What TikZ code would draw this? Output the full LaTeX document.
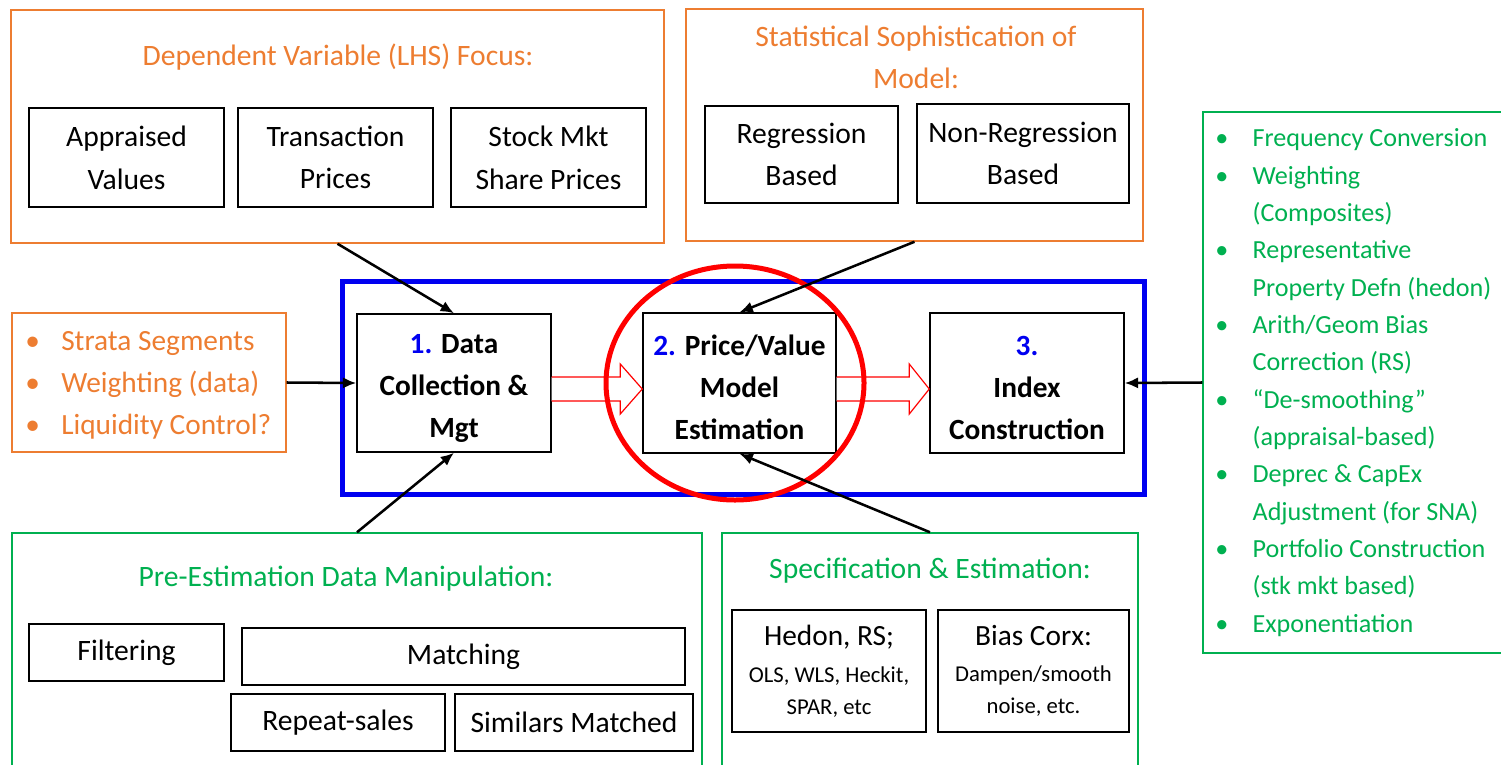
\documentclass[tikz,border=0pt]{standalone}
\usepackage{fontspec}
\setmainfont{Carlito}
\usetikzlibrary{shapes.geometric,arrows.meta,calc}
\definecolor{orng}{HTML}{ED7D31}
\definecolor{grn}{HTML}{00B050}
\definecolor{blu}{HTML}{0000F0}
\begin{document}
\begin{tikzpicture}[x=0.75pt,y=-0.75pt,
  sz/.style 2 args={minimum width=#1*0.75pt, minimum height=#2*0.75pt},
  obox/.style={draw=orng, line width=1.1pt, inner sep=0pt},
  gbox/.style={draw=grn, line width=1.1pt, inner sep=0pt},
  kbox/.style={draw=black, line width=1.1pt, inner sep=0pt, align=center, font=\fontsize{22.2}{32}\selectfont},
  mbox/.style={kbox, font=\fontsize{22}{31.5}\selectfont\bfseries},
  ttl/.style={inner sep=0pt, align=center, font=\fontsize{22.2}{31.5}\selectfont},
  conn/.style={line width=1.9pt, -{Latex[length=10pt,width=8.5pt]}},
  hol/.style={draw=red, fill=white, line width=0.9pt, line join=miter},
]
\useasboundingbox (0,0) rectangle (1501,764);
\clip (0,0) rectangle (1501,764);

% top orange boxes
\node[obox, sz={653}{233}] (o1) at (337.5,126.5) {};
\node[ttl, text=orng] (o1t) at (338,57) {Dependent Variable (LHS) Focus:};
\node[kbox, sz={195}{99}] (app) at (126.5,157.5) {Appraised\\Values};
\node[kbox, sz={195}{99}] (tra) at (335.5,157.5) {Transaction\\Prices};
\node[kbox, sz={195}{99}] (stk) at (548.5,157.5) {Stock Mkt\\Share Prices};

\node[obox, sz={457}{232}] (o2) at (914.5,125) {};
\node[ttl, text=orng] (o2t) at (916,57) {Statistical Sophistication of\\Model:};
\node[kbox, sz={193}{97}] (reg) at (801.5,154.5) {Regression\\Based};
\node[kbox, sz={212}{99}] (nreg) at (1023,153.5) {Non-Regression\\Based};

% left orange list
\node[obox, sz={274}{139}] (ll) at (149,382.5) {};
\node[ttl, anchor=west, text=orng, align=left, font=\fontsize{22}{31.5}\selectfont] (llt) at (25,384)
  {\begin{tabular}{@{}p{27pt}@{}l@{}}\textbullet & Strata Segments\\ \textbullet & Weighting (data)\\ \textbullet & Liquidity Control?\end{tabular}};

% blue frame and main boxes
\node[draw=blu, line width=3.75pt, inner sep=0pt, sz={802}{213}] (frame) at (743,387.5) {};
\node[mbox, sz={194}{138}] (b1) at (454,383) {\strut\textcolor{blu}{1.} Data\\Collection \&\\Mgt};
\node[mbox, sz={193}{140}] (b2) at (739.5,383) {\strut\textcolor{blu}{2.} Price/Value\\Model\\Estimation};
\node[mbox, sz={194}{140}] (b3) at (1027,383) {\strut\textcolor{blu}{3.}\\Index\\Construction};

% hollow arrows
\draw[hol] ($(b1.east)+(0,-6)$) -- ($(b2.west)+(-22,-6)$) -- ($(b2.west)+(-22,-19)$)
  -- ($(b2.west)+(0,6)$) -- ($(b2.west)+(-22,31)$) -- ($(b2.west)+(-22,18)$) -- ($(b1.east)+(0,18)$);
\draw[hol] ($(b2.east)+(0,-6)$) -- ($(b3.west)+(-20,-6)$) -- ($(b3.west)+(-20,-19)$)
  -- ($(b3.west)+(0,6)$) -- ($(b3.west)+(-20,31)$) -- ($(b3.west)+(-20,18)$) -- ($(b2.east)+(0,18)$);

% red ellipse
\node[draw=red, line width=3.75pt, ellipse, inner sep=0pt, minimum width=193.5pt, minimum height=175.5pt] (hl) at (735,383) {};

% bottom green boxes
\node[gbox, sz={690}{240}] (gl) at (357,653) {};
\node[ttl, text=grn] (glt) at (346,579) {Pre-Estimation Data Manipulation:};
\node[kbox, sz={195}{57}] (fil) at (126.5,652.5) {Filtering};
\node[kbox, sz={443}{57}] (mat) at (463.5,656.5) {Matching};
\node[kbox, sz={214}{57}] (rep) at (338,722.5) {Repeat-sales};
\node[kbox, sz={238}{57}] (sim) at (574,722.5) {Similars Matched};

\node[gbox, sz={416}{240}] (gs) at (930,653) {};
\node[ttl, text=grn] (gst) at (930,571) {Specification \& Estimation:};
\node[kbox, sz={194}{122}, font=\fontsize{17}{24}\selectfont] (hed) at (829,671)
  {{\fontsize{22}{26}\selectfont Hedon, RS;}\\[3.5pt]OLS, WLS, Heckit,\\SPAR, etc};
\node[kbox, sz={191}{122}, font=\fontsize{17}{24}\selectfont] (bia) at (1033.5,671)
  {{\fontsize{22}{26}\selectfont Bias Corx:}\\[3.5pt]Dampen/smooth\\noise, etc.};

% right green list
\node[gbox, sz={317}{541}] (gr) at (1361.5,382.5) {};
\node[inner sep=0pt, anchor=west, text=grn, align=left, font=\fontsize{19.6}{28}\selectfont] (grt) at (1215,382)
  {\begin{tabular}{@{}p{28pt}@{}l@{}}
  \textbullet & Frequency Conversion\\
  \textbullet & Weighting\\
   & (Composites)\\
  \textbullet & Representative\\
   & Property Defn (hedon)\\
  \textbullet & Arith/Geom Bias\\
   & Correction (RS)\\
  \textbullet & “De-smoothing”\\
   & (appraisal-based)\\
  \textbullet & Deprec \& CapEx\\
   & Adjustment (for SNA)\\
  \textbullet & Portfolio Construction\\
   & (stk mkt based)\\
  \textbullet & Exponentiation
  \end{tabular}};

% black connectors
\draw[conn] (o1.south) -- (b1.north);
\draw[conn] (o2.south) -- (b2.north);
\draw[conn] (ll.east) -- (b1.west);
\draw[conn] (gr.west) -- (b3.east);
\draw[conn] (gl.north) -- (b1.south);
\draw[conn] (gs.north) -- (b2.south);
\end{tikzpicture}
\end{document}
